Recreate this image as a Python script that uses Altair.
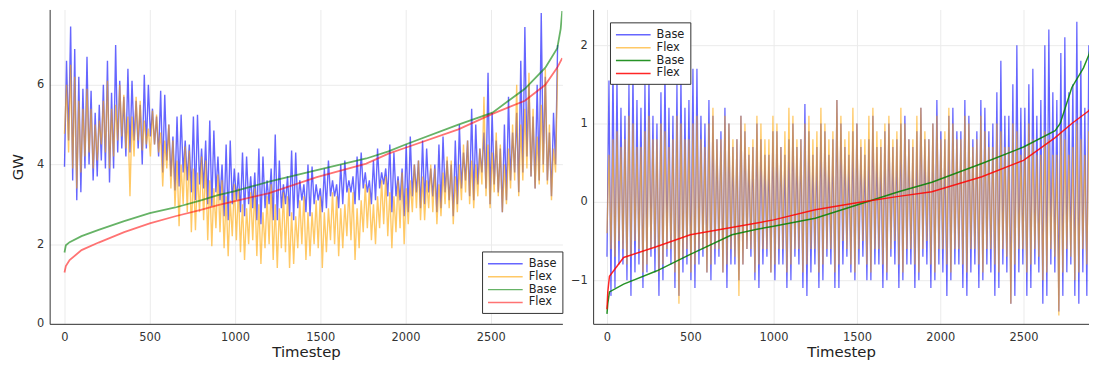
import altair as alt
import pandas as pd

# ---------------- data ----------------
# Noisy hourly series summarised per 24-step window: low and high value of each window
WINDOW_START = list(range(0, 2881, 24))  # 121 windows

left_base_hi = [6.6, 7.46, 6.9, 6.2, 5.9, 6.7, 5.85, 5.3, 5.5, 6.0,
                6.6, 5.8, 7.0, 6.1, 5.7, 6.4, 6.1, 5.6, 5.5, 6.25,
                6.0, 5.4, 5.2, 5.85, 5.75, 5.0, 4.7, 5.2, 5.25, 4.6,
                4.5, 5.2, 5.25, 4.4, 4.6, 5.1, 4.85, 4.2, 4.0, 4.5,
                4.6, 3.9, 3.8, 4.3, 4.2, 3.7, 3.8, 4.4, 4.2, 3.6,
                3.9, 4.75, 4.1, 3.5, 3.7, 4.35, 4.3, 3.6, 3.5, 4.0,
                3.95, 3.5, 3.4, 3.9, 4.1, 3.6, 3.5, 4.0, 4.1, 3.6,
                3.7, 4.2, 4.3, 3.8, 3.6, 4.1, 4.4, 3.8, 3.9, 4.5,
                4.3, 3.7, 3.9, 4.5, 4.7, 4.0, 4.1, 4.6, 4.4, 3.9,
                4.0, 4.5, 4.7, 4.1, 4.0, 4.6, 5.0, 4.3, 4.6, 5.4,
                5.0, 4.4, 4.8, 6.3, 5.3, 4.6, 4.4, 5.0, 5.7, 4.8,
                5.3, 6.6, 7.45, 6.0, 5.2, 6.0, 7.8, 6.2, 4.8, 5.3,
                7.0]
left_base_lo = [3.94, 4.6, 3.6, 3.1, 3.3, 3.9, 4.0, 3.6, 3.7, 4.1,
                3.9, 3.55, 3.9, 4.3, 4.4, 4.2, 4.3, 4.6, 4.4, 4.0,
                4.4, 4.7, 4.5, 4.2, 3.8, 4.1, 3.7, 3.35, 3.45, 3.8,
                3.6, 3.3, 3.1, 3.5, 3.4, 3.0, 2.95, 3.3, 3.1, 2.7,
                2.6, 3.0, 3.1, 2.8, 2.7, 3.0, 2.9, 2.6, 2.5, 2.9,
                3.0, 2.6, 2.6, 2.9, 3.0, 2.7, 2.6, 2.9, 3.1, 2.8,
                2.7, 3.0, 3.1, 2.8, 2.9, 3.2, 3.2, 2.9, 3.0, 3.3,
                3.3, 3.0, 3.1, 3.4, 3.3, 3.0, 3.1, 3.4, 3.5, 3.2,
                2.8, 3.2, 3.1, 2.7, 2.8, 3.2, 3.3, 2.9, 3.0, 3.3,
                3.2, 2.8, 2.9, 3.3, 3.1, 2.7, 3.0, 3.4, 3.6, 3.2,
                3.1, 3.5, 3.8, 3.4, 3.0, 3.5, 3.3, 2.8, 3.1, 3.6,
                3.8, 3.3, 3.8, 4.2, 3.7, 3.4, 3.6, 4.0, 3.6, 3.2,
                4.0]
left_flex_hi = [6.0, 6.5, 6.2, 5.6, 5.4, 5.9, 5.4, 5.0, 5.1, 5.6,
                6.1, 5.4, 5.5, 6.0, 5.75, 5.2, 5.2, 5.7, 5.6, 5.1,
                4.9, 5.35, 5.25, 4.8, 4.6, 5.0, 4.6, 4.1, 4.0, 4.45,
                4.35, 3.9, 3.8, 4.2, 4.1, 3.6, 3.4, 3.75, 3.6, 3.2,
                3.1, 3.5, 3.4, 3.0, 2.9, 3.3, 3.4, 3.0, 2.8, 3.2,
                3.5, 3.0, 2.9, 3.3, 3.2, 2.8, 2.7, 3.1, 3.2, 2.8,
                2.8, 3.1, 3.2, 2.8, 2.9, 3.3, 3.2, 2.9, 3.0, 3.4,
                3.3, 2.9, 3.1, 3.5, 3.4, 3.0, 3.2, 3.6, 3.7, 3.3,
                3.2, 3.6, 3.8, 3.4, 3.6, 4.0, 4.1, 3.7, 3.6, 4.0,
                3.9, 3.5, 3.8, 4.2, 4.1, 3.7, 4.0, 4.5, 4.6, 4.1,
                4.0, 4.4, 5.7, 4.5, 4.3, 4.8, 4.5, 4.0, 4.4, 5.0,
                6.0, 5.0, 5.4, 6.3, 5.4, 4.7, 5.5, 6.4, 5.0, 4.4,
                6.4]
left_flex_lo = [4.77, 4.3, 3.9, 3.4, 3.8, 4.2, 4.3, 3.9, 4.1, 4.5,
                4.3, 3.9, 4.2, 4.6, 4.7, 4.4, 3.2, 4.2, 4.6, 4.35,
                4.5, 4.2, 4.5, 4.3, 3.45, 3.9, 3.4, 2.95, 2.45, 3.0,
                2.8, 2.3, 2.35, 2.8, 2.6, 2.1, 1.95, 2.4, 2.3, 1.9,
                1.7, 2.2, 2.1, 1.8, 1.6, 2.0, 2.1, 1.7, 1.5, 1.9,
                2.0, 1.6, 1.4, 1.9, 1.8, 1.4, 1.5, 1.9, 2.0, 1.6,
                1.7, 2.0, 1.9, 1.4, 1.8, 2.1, 2.0, 1.7, 1.9, 2.2,
                2.1, 1.6, 1.9, 2.3, 2.4, 2.1, 2.0, 2.4, 2.5, 2.2,
                1.9, 2.3, 2.4, 2.0, 2.5, 2.8, 2.9, 2.6, 2.6, 2.9,
                2.8, 2.5, 2.7, 3.0, 2.9, 2.5, 2.8, 3.1, 3.3, 3.0,
                2.9, 3.2, 3.5, 3.2, 2.9, 3.3, 3.2, 2.8, 3.0, 3.4,
                3.6, 3.2, 3.6, 3.9, 3.7, 3.4, 3.5, 3.8, 3.5, 3.1,
                3.8]

right_base_hi = [1.55, 1.8, 1.6, 1.2, 1.1, 1.5, 1.7, 1.3, 1.2, 1.5,
                 1.6, 1.1, 1.0, 1.4, 1.7, 1.2, 1.1, 1.5, 1.6, 1.2,
                 1.3, 1.7, 1.7, 1.1, 1.0, 1.3, 1.1, 0.8, 0.9, 1.2,
                 1.0, 0.7, 0.8, 1.1, 0.9, 0.6, 0.7, 1.0, 0.8, 0.6,
                 0.6, 0.9, 0.9, 0.7, 0.6, 0.8, 1.0, 0.7, 0.8, 1.25,
                 0.9, 0.6, 0.7, 1.0, 0.9, 0.6, 0.8, 1.3, 1.0, 0.7,
                 0.6, 0.9, 1.0, 0.7, 0.6, 0.8, 1.1, 0.7, 0.7, 0.9,
                 1.0, 0.7, 0.8, 1.0, 1.1, 0.8, 0.7, 0.9, 1.2, 0.8,
                 0.8, 1.0, 1.3, 0.9, 0.8, 1.1, 1.2, 0.9, 0.9, 1.3,
                 1.1, 0.8, 0.9, 1.3, 1.2, 0.9, 1.0, 1.4, 1.8, 1.1,
                 1.1, 1.5, 2.0, 1.2, 1.2, 1.5, 1.7, 1.1, 1.3, 2.0,
                 2.2, 1.4, 1.3, 1.9, 2.1, 1.4, 1.5, 2.3, 1.8, 1.2,
                 2.0]
right_base_lo = [-0.7, -1.2, -1.1, -0.8, -0.8, -1.0, -1.2, -0.9, -0.8, -1.1,
                 -0.9, -0.7, -0.9, -1.2, -1.0, -0.7, -0.8, -1.1, -1.2, -0.9,
                 -0.8, -1.0, -1.1, -0.8, -0.7, -0.9, -1.0, -0.8, -0.7, -0.9,
                 -1.1, -0.8, -0.8, -1.0, -0.8, -0.6, -0.7, -1.0, -1.1, -0.8,
                 -0.7, -0.9, -1.0, -0.8, -0.8, -1.1, -1.0, -0.7, -0.8, -1.1,
                 -1.2, -0.9, -0.8, -1.1, -1.0, -0.7, -0.8, -1.1, -1.1, -0.8,
                 -0.7, -0.9, -1.0, -0.8, -0.7, -1.0, -1.0, -0.8, -0.8, -1.1,
                 -1.0, -0.7, -0.8, -1.1, -1.0, -0.8, -0.8, -1.1, -1.0, -0.7,
                 -0.8, -1.1, -1.0, -0.8, -0.9, -1.2, -1.0, -0.8, -0.8, -1.1,
                 -1.2, -0.9, -0.8, -1.1, -1.0, -0.8, -0.9, -1.2, -1.1, -0.8,
                 -0.9, -1.3, -1.2, -0.9, -0.8, -1.2, -1.1, -0.8, -0.9, -1.3,
                 -1.2, -0.8, -0.9, -1.4, -1.2, -0.9, -0.8, -1.2, -1.3, -0.9,
                 -1.2]
right_flex_hi = [0.6, 0.8, 0.9, 0.7, 0.8, 1.1, 1.0, 0.7, 0.7, 0.9,
                 1.1, 0.8, 0.8, 1.0, 0.9, 0.7, 0.8, 1.1, 1.0, 0.8,
                 0.8, 1.0, 1.1, 0.8, 0.7, 1.0, 1.2, 0.8, 0.8, 1.1,
                 1.0, 0.8, 0.8, 1.1, 1.0, 0.7, 0.8, 1.1, 1.0, 0.8,
                 0.8, 1.1, 1.0, 0.7, 0.9, 1.2, 1.1, 0.8, 0.8, 1.0,
                 1.1, 0.8, 0.9, 1.2, 1.0, 0.8, 0.9, 1.3, 1.1, 0.8,
                 0.9, 1.2, 1.0, 0.8, 0.8, 1.1, 1.2, 0.9, 0.8, 1.0,
                 1.1, 0.8, 0.9, 1.2, 1.0, 0.8, 0.8, 1.1, 1.2, 0.9,
                 0.8, 1.0, 1.1, 0.8, 0.9, 1.2, 1.0, 0.8, 0.8, 1.1,
                 1.0, 0.7, 0.8, 1.1, 0.9, 0.7, 0.7, 1.0, 0.9, 0.7,
                 0.7, 1.0, 0.9, 0.6, 0.7, 1.0, 0.8, 0.6, 0.6, 0.9,
                 0.8, 0.6, 0.6, 0.9, 0.8, 0.6, 0.7, 1.0, 0.8, 0.6,
                 0.9]
right_flex_lo = [-0.4, -0.6, -0.7, -0.5, -0.6, -0.8, -0.7, -0.5, -0.6, -0.9,
                 -0.8, -0.6, -0.6, -0.9, -0.8, -0.6, -0.6, -0.9, -1.3, -0.7,
                 -0.6, -0.9, -0.8, -0.6, -0.6, -0.9, -0.8, -0.6, -0.6, -0.9,
                 -0.8, -0.6, -0.7, -1.2, -0.8, -0.6, -0.6, -0.9, -0.8, -0.6,
                 -0.6, -0.9, -0.8, -0.6, -0.6, -0.9, -0.8, -0.6, -0.6, -0.9,
                 -0.8, -0.6, -0.6, -0.9, -0.8, -0.6, -0.6, -0.9, -0.8, -0.5,
                 -0.6, -0.8, -0.9, -0.6, -0.5, -0.8, -0.9, -0.6, -0.6, -0.8,
                 -0.9, -0.6, -0.5, -0.8, -0.9, -0.6, -0.6, -0.8, -0.9, -0.6,
                 -0.5, -0.8, -0.9, -0.6, -0.6, -0.8, -0.9, -0.6, -0.6, -0.8,
                 -0.9, -0.6, -0.6, -0.8, -0.9, -0.6, -0.6, -0.8, -0.9, -0.6,
                 -0.7, -1.3, -0.8, -0.6, -0.6, -0.9, -0.8, -0.6, -0.7, -1.0,
                 -0.9, -0.6, -0.7, -1.45, -0.9, -0.6, -0.7, -1.0, -0.9, -0.6,
                 -0.8]

# Sorted (duration) curves
left_base_sorted_t = [0, 8, 30, 100, 200, 350, 500, 650, 800, 900, 1000, 1200,
                      1480, 1770, 1900, 2000, 2310, 2510, 2700, 2820, 2890, 2910, 2919]
left_base_sorted_v = [1.79, 1.97, 2.05, 2.2, 2.36, 2.58, 2.78, 2.92, 3.1, 3.23, 3.33, 3.57,
                      3.86, 4.15, 4.33, 4.5, 5.0, 5.3, 5.9, 6.43, 6.92, 7.4, 7.85]
left_flex_sorted_t = [0, 8, 30, 100, 200, 350, 500, 650, 800, 900, 1000, 1200,
                      1480, 1770, 1900, 2000, 2310, 2510, 2700, 2820, 2890, 2919]
left_flex_sorted_v = [1.29, 1.45, 1.6, 1.85, 2.04, 2.3, 2.52, 2.7, 2.86, 2.98, 3.08, 3.28,
                      3.68, 4.02, 4.27, 4.42, 4.88, 5.27, 5.6, 6.0, 6.43, 6.67]
right_base_sorted_t = [0, 5, 15, 100, 300, 500, 750, 900, 1000, 1250, 1500, 1750,
                       1950, 2250, 2500, 2690, 2720, 2790, 2860, 2893, 2920]
right_base_sorted_v = [-1.43, -1.3, -1.15, -1.05, -0.88, -0.67, -0.42, -0.35, -0.31, -0.21, -0.04, 0.13,
                       0.25, 0.49, 0.70, 0.91, 1.0, 1.46, 1.71, 1.88, 2.2]
right_flex_sorted_t = [0, 5, 15, 100, 300, 500, 900, 1000, 1250, 1500, 1750, 1950,
                       2250, 2500, 2690, 2790, 2890, 2920]
right_flex_sorted_v = [-1.37, -1.15, -0.95, -0.71, -0.57, -0.42, -0.27, -0.23, -0.10, -0.01, 0.07, 0.13,
                       0.32, 0.53, 0.82, 1.0, 1.16, 1.25]

X_TICKS = [0, 500, 1000, 1500, 2000, 2500]
LEFT_Y_TICKS = [0, 2, 4, 6]
RIGHT_Y_TICKS = [-1, 0, 1, 2]
KEYS = ["Base", "Flex", "Base sorted", "Flex sorted"]


def noisy_frame(lo, hi, key):
    rows = []
    for t0, a, b in zip(WINDOW_START, lo, hi):
        rows.append({"t": t0, "v": a, "s": key})
        rows.append({"t": t0 + 12, "v": b, "s": key})
    return pd.DataFrame(rows)


def curve_frame(ts, vs, key):
    return pd.DataFrame({"t": ts, "v": vs, "s": key})


FONT = "DejaVu Sans"


def panel(frames, widths, colors, xdom, ydom, yticks, ytitle, width, height,
          legx, legy, y_extent, ytitle_pad):
    legend = alt.Legend(
        orient="none", legendX=legx, legendY=legy, title=None,
        symbolType="M-1,0H4.38", symbolSize=169, symbolStrokeWidth=1.5,
        labelFontSize=11.5, labelFont=FONT, labelColor="#222",
        padding=5, rowPadding=0, labelOffset=27,
        strokeColor="#333", fillColor="white",
        labelExpr="split(datum.label, ' ')[0]",
    )
    cscale = alt.Scale(domain=KEYS, range=colors)
    xaxis = alt.Axis(values=X_TICKS, title="Timestep", labelPadding=8, format="d",
                     titlePadding=1, ticks=False)
    yaxis_kwargs = dict(values=yticks, labelPadding=6, ticks=False, format="d",
                        minExtent=y_extent, maxExtent=y_extent)
    if ytitle:
        yaxis = alt.Axis(title=ytitle, titlePadding=ytitle_pad, **yaxis_kwargs)
    else:
        yaxis = alt.Axis(title=None, **yaxis_kwargs)
    layers = []
    for df, w in zip(frames, widths):
        layers.append(
            alt.Chart(df).mark_line(strokeWidth=w, clip=True).encode(
                x=alt.X("t:Q", scale=alt.Scale(domain=xdom, nice=False, zero=False), axis=xaxis),
                y=alt.Y("v:Q", scale=alt.Scale(domain=ydom, nice=False, zero=False), axis=yaxis),
                color=alt.Color("s:N", scale=cscale, legend=legend),
            )
        )
    return alt.layer(*layers).properties(width=width, height=height)


left_frames = [
    noisy_frame(left_base_lo, left_base_hi, "Base"),
    noisy_frame(left_flex_lo, left_flex_hi, "Flex"),
    curve_frame(left_base_sorted_t, left_base_sorted_v, "Base sorted"),
    curve_frame(left_flex_sorted_t, left_flex_sorted_v, "Flex sorted"),
]
right_frames = [
    noisy_frame(right_base_lo, right_base_hi, "Base"),
    noisy_frame(right_flex_lo, right_flex_hi, "Flex"),
    curve_frame(right_base_sorted_t, right_base_sorted_v, "Base sorted"),
    curve_frame(right_flex_sorted_t, right_flex_sorted_v, "Flex sorted"),
]

left = panel(
    left_frames, [1.4, 1.4, 1.8, 1.8],
    ["rgba(0,0,255,0.6)", "rgba(255,165,0,0.6)", "rgba(0,128,0,0.6)", "rgba(255,0,0,0.55)"],
    [-87, 2920], [0, 7.89], LEFT_Y_TICKS, "GW", 517, 317, 436, 244, 14, 10,
)
right = panel(
    right_frames, [1.3, 1.3, 1.5, 1.5],
    ["rgba(0,0,255,0.6)", "rgba(255,165,0,0.6)", "rgba(0,128,0,0.85)", "rgba(255,0,0,0.85)"],
    [-83, 2893], [-1.557, 2.456], RIGHT_Y_TICKS, None, 500, 317, 17, 13, 20, 0,
)

chart = alt.hconcat(left, right, spacing=7).resolve_scale(color="independent").properties(
    padding={"left": 3, "top": 0, "right": 0, "bottom": 0}
).configure_view(stroke=None).configure_axis(
    gridColor="#ebebeb", gridWidth=1, domainColor="#333", domainWidth=1,
    labelFont=FONT, titleFont=FONT, labelFontSize=11.5, titleFontSize=15,
    labelColor="#333", titleColor="#222", titleFontWeight="normal",
)

chart.save("out.html", embed_options={"renderer": "svg", "actions": False})
